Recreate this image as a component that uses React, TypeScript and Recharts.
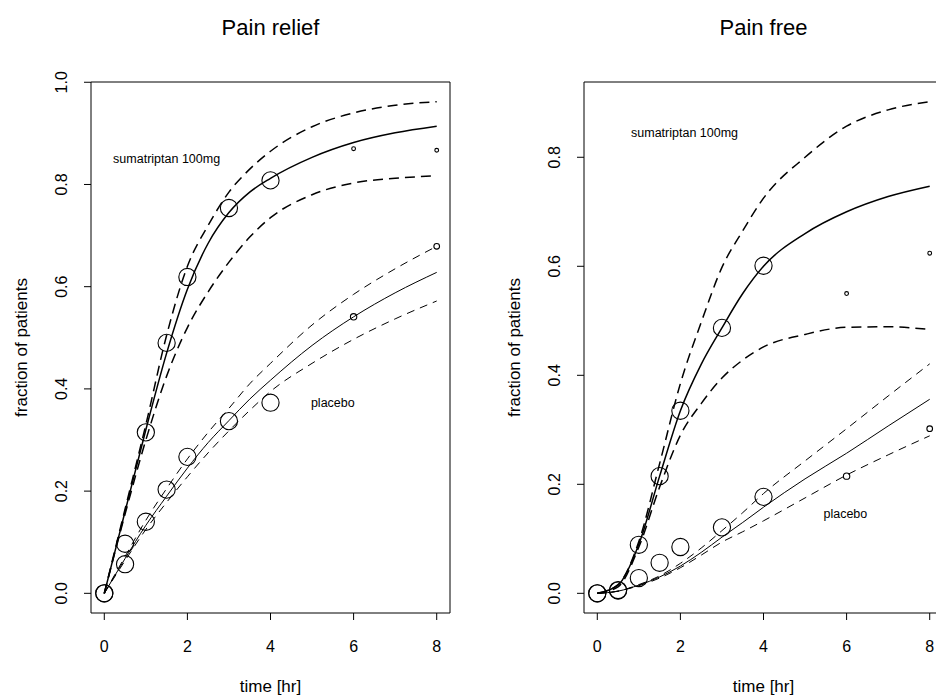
import React from 'react';
import { ComposedChart, Line, Scatter, XAxis, YAxis, ReferenceArea, ReferenceDot } from 'recharts';

// ---------- data ----------
const curveT = [0, 0.5, 1, 1.5, 2, 2.5, 3, 3.5, 4, 5, 6, 7, 8];
const obsT = [0, 0.5, 1, 1.5, 2, 3, 4, 6, 8];
const xTicks = [0, 2, 4, 6, 8];
const reliefYTicks = [0, 0.2, 0.4, 0.6, 0.8, 1.0];
const freeYTicks = [0, 0.2, 0.4, 0.6, 0.8];

// Pain relief – observed
const reliefSumaObs = [0, 0.097, 0.315, 0.49, 0.619, 0.754, 0.808, 0.87, 0.867];
const reliefPlacObs = [0, 0.057, 0.14, 0.203, 0.267, 0.337, 0.373, 0.541, 0.679];
// Pain relief – model fit and band
const reliefSumaFit = [0, 0.16, 0.32, 0.47, 0.595, 0.685, 0.745, 0.785, 0.812, 0.853, 0.882, 0.901, 0.914];
const reliefSumaHi = [0, 0.165, 0.33, 0.505, 0.64, 0.72, 0.785, 0.83, 0.865, 0.913, 0.94, 0.955, 0.962];
const reliefSumaLo = [0, 0.155, 0.3, 0.425, 0.52, 0.59, 0.648, 0.697, 0.735, 0.78, 0.803, 0.812, 0.817];
const reliefPlacFit = [0, 0.068, 0.133, 0.19, 0.245, 0.295, 0.338, 0.38, 0.417, 0.485, 0.541, 0.588, 0.628];
const reliefPlacHi = [0, 0.072, 0.143, 0.205, 0.263, 0.315, 0.362, 0.41, 0.45, 0.525, 0.585, 0.635, 0.679];
const reliefPlacLo = [0, 0.064, 0.125, 0.178, 0.228, 0.275, 0.318, 0.358, 0.395, 0.45, 0.497, 0.537, 0.572];

// Pain free – observed
const freeSumaObs = [0, 0.006, 0.089, 0.215, 0.335, 0.487, 0.601, 0.55, 0.624];
const freePlacObs = [0, 0.005, 0.028, 0.056, 0.085, 0.121, 0.177, 0.215, 0.302];
// Pain free – model fit and band
const freeSumaFit = [0, 0.015, 0.09, 0.215, 0.335, 0.42, 0.487, 0.55, 0.6, 0.66, 0.7, 0.728, 0.747];
const freeSumaHi = [0, 0.016, 0.095, 0.238, 0.385, 0.497, 0.598, 0.665, 0.725, 0.8, 0.857, 0.887, 0.902];
const freeSumaLo = [0, 0.012, 0.085, 0.195, 0.29, 0.348, 0.395, 0.428, 0.452, 0.475, 0.488, 0.489, 0.484];
const freePlacFit = [0, 0.004, 0.015, 0.03, 0.05, 0.075, 0.103, 0.13, 0.158, 0.21, 0.257, 0.307, 0.356];
const freePlacHi = [0, 0.004, 0.016, 0.032, 0.055, 0.083, 0.115, 0.148, 0.183, 0.243, 0.302, 0.362, 0.421];
const freePlacLo = [0, 0.004, 0.014, 0.028, 0.047, 0.07, 0.094, 0.113, 0.133, 0.175, 0.217, 0.254, 0.289];

// relative number of patients behind each observation (drives circle size)
const sumaRelN = [1, 1, 1, 1, 1, 1, 1, 0.22, 0.22];
const placRelN = [1, 1, 1, 1, 1, 1, 1, 0.37, 0.33];

// ---------- layout / style ----------
const FONT = '"Liberation Sans", Arial, Helvetica, sans-serif';
const W = 493;
const H = 698;
const M = { top: 82, right: 43, bottom: 0, left: 0 };
const YW = 91;
const XH = 85;
const PLOT_W = W - M.right - YW;
const PLOT_H = H - M.top - XH;

const toLine = (xs: number[], ys: number[]) => xs.map((t, i) => ({ t, v: ys[i] }));
const toPts = (xs: number[], ys: number[], ws: number[]) => xs.map((t, i) => ({ t, v: ys[i], w: ws[i] }));

const circleShape = (p: any) => {
  if (p.cx == null || p.cy == null) return <g />;
  const r = 8.6 * (p.payload?.w ?? 1);
  return <circle cx={p.cx} cy={p.cy} r={r} fill="none" stroke="#000" strokeWidth={1.1} />;
};

const xTick = (p: any) => (
  <text x={p.x} y={652} textAnchor="middle" fontSize={16} fontFamily={FONT} fill="#000">
    {p.payload.value}
  </text>
);

const yTick = (p: any) => {
  const x = YW - 24;
  return (
    <text x={x} y={p.y} transform={`rotate(-90 ${x} ${p.y})`} textAnchor="middle" fontSize={16} fontFamily={FONT} fill="#000">
      {Number(p.payload.value).toFixed(1)}
    </text>
  );
};

const xLabel = () => (
  <text x={YW + PLOT_W / 2} y={692} textAnchor="middle" fontSize={17} fontFamily={FONT} fill="#000">
    time [hr]
  </text>
);

const yLabel = () => {
  const x = YW - 64;
  const y = M.top + PLOT_H / 2;
  return (
    <text x={x} y={y} transform={`rotate(-90 ${x} ${y})`} textAnchor="middle" fontSize={17} fontFamily={FONT} fill="#000">
      fraction of patients
    </text>
  );
};

const noteShape = (label: string) => (p: any) => (
  <text x={p.cx} y={p.cy} dy="0.35em" textAnchor="middle" fontSize={12.5} fontFamily={FONT} fill="#000">
    {label}
  </text>
);

type PanelProps = {
  title: string;
  left: number;
  yDomain: [number, number];
  yTicks: number[];
  suma: [number[], number[], number[]];
  plac: [number[], number[], number[]];
  sumaObs: number[];
  placObs: number[];
  notes: { x: number; y: number; label: string }[];
};

function Panel({ title, left, yDomain, yTicks, suma, plac, sumaObs, placObs, notes }: PanelProps) {
  const xDomain: [number, number] = [-0.32, 8.32];
  return (
    <div style={{ position: 'absolute', left, top: 0, width: W, height: H }}>
      <ComposedChart width={W} height={H} margin={M}>
        <XAxis
          type="number"
          dataKey="t"
          domain={xDomain}
          allowDataOverflow
          ticks={xTicks}
          interval={0}
          axisLine={false}
          tickLine={{ stroke: '#000', strokeWidth: 1 }}
          tickSize={7}
          tick={xTick}
          height={XH}
          label={{ content: xLabel }}
        />
        <YAxis
          type="number"
          dataKey="v"
          domain={yDomain}
          allowDataOverflow
          ticks={yTicks}
          interval={0}
          axisLine={false}
          tickLine={{ stroke: '#000', strokeWidth: 1 }}
          tickSize={7}
          tick={yTick}
          width={YW}
          label={{ content: yLabel }}
        />
        <Line data={toLine(curveT, suma[0])} dataKey="v" type="monotone" stroke="#000" strokeWidth={1.5} dot={false} activeDot={false} isAnimationActive={false} />
        <Line data={toLine(curveT, suma[1])} dataKey="v" type="monotone" stroke="#000" strokeWidth={1.5} strokeDasharray="10 6" dot={false} activeDot={false} isAnimationActive={false} />
        <Line data={toLine(curveT, suma[2])} dataKey="v" type="monotone" stroke="#000" strokeWidth={1.5} strokeDasharray="10 6" dot={false} activeDot={false} isAnimationActive={false} />
        <Line data={toLine(curveT, plac[0])} dataKey="v" type="monotone" stroke="#000" strokeWidth={1} dot={false} activeDot={false} isAnimationActive={false} />
        <Line data={toLine(curveT, plac[1])} dataKey="v" type="monotone" stroke="#000" strokeWidth={1} strokeDasharray="8 6" dot={false} activeDot={false} isAnimationActive={false} />
        <Line data={toLine(curveT, plac[2])} dataKey="v" type="monotone" stroke="#000" strokeWidth={1} strokeDasharray="8 6" dot={false} activeDot={false} isAnimationActive={false} />
        <Scatter data={toPts(obsT, sumaObs, sumaRelN)} dataKey="v" shape={circleShape} isAnimationActive={false} />
        <Scatter data={toPts(obsT, placObs, placRelN)} dataKey="v" shape={circleShape} isAnimationActive={false} />
        {notes.map((n) => (
          <ReferenceDot key={n.label} x={n.x} y={n.y} r={0} ifOverflow="visible" shape={noteShape(n.label)} />
        ))}
        <ReferenceArea
          x1={xDomain[0]}
          x2={xDomain[1]}
          y1={yDomain[0]}
          y2={yDomain[1]}
          fill="none"
          fillOpacity={0}
          stroke="#000"
          strokeWidth={1}
          ifOverflow="visible"
        />
      </ComposedChart>
      <svg style={{ position: 'absolute', left: 0, top: 0 }} width={W} height={60}>
        <text x={YW + PLOT_W / 2} y={35} textAnchor="middle" fontSize={22} fontFamily={FONT} fill="#000">
          {title}
        </text>
      </svg>
    </div>
  );
}

export default function App() {
  return (
    <div style={{ position: 'fixed', left: 0, top: 0, width: 936, height: 698, overflow: 'hidden', background: '#fff' }}>
      <Panel
        title="Pain relief"
        left={0}
        yDomain={[-0.0385, 1.0005]}
        yTicks={reliefYTicks}
        suma={[reliefSumaFit, reliefSumaHi, reliefSumaLo]}
        plac={[reliefPlacFit, reliefPlacHi, reliefPlacLo]}
        sumaObs={reliefSumaObs}
        placObs={reliefPlacObs}
        notes={[
          { x: 1.5, y: 0.85, label: 'sumatriptan 100mg' },
          { x: 5.5, y: 0.373, label: 'placebo' },
        ]}
      />
      <Panel
        title="Pain free"
        left={W}
        yDomain={[-0.0361, 0.9381]}
        yTicks={freeYTicks}
        suma={[freeSumaFit, freeSumaHi, freeSumaLo]}
        plac={[freePlacFit, freePlacHi, freePlacLo]}
        sumaObs={freeSumaObs}
        placObs={freePlacObs}
        notes={[
          { x: 2.1, y: 0.846, label: 'sumatriptan 100mg' },
          { x: 5.97, y: 0.147, label: 'placebo' },
        ]}
      />
    </div>
  );
}
